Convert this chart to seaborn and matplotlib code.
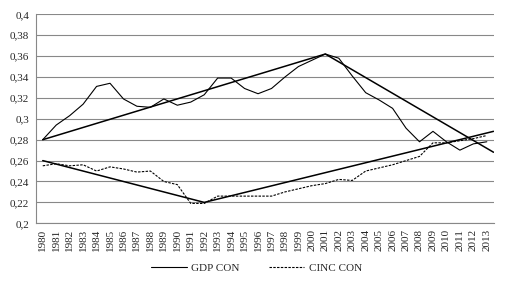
import numpy as np
import pandas as pd
import matplotlib.pyplot as plt
import seaborn as sns
from matplotlib.lines import Line2D
from matplotlib.ticker import FuncFormatter

# values
years = list(range(1980, 2014))
gdp_con = [0.280, 0.294, 0.303, 0.314, 0.331, 0.334, 0.319, 0.312, 0.311, 0.319,
           0.313, 0.316, 0.323, 0.339, 0.339, 0.329, 0.324, 0.329, 0.340, 0.350,
           0.356, 0.362, 0.358, 0.341, 0.325, 0.318, 0.310, 0.291, 0.278, 0.288,
           0.278, 0.270, 0.276, 0.278]
cinc_con = [0.255, 0.257, 0.255, 0.256, 0.250, 0.254, 0.252, 0.249, 0.250, 0.240,
            0.237, 0.219, 0.219, 0.226, 0.226, 0.226, 0.226, 0.226, 0.230, 0.233,
            0.236, 0.238, 0.242, 0.241, 0.250, 0.253, 0.256, 0.260, 0.264, 0.277,
            0.277, 0.279, 0.281, 0.284]

# straight trend segments (knots)
gdp_trend_years = [1980, 2001, 2013.5]
gdp_trend = [0.280, 0.362, 0.268]
cinc_trend_years = [1980, 1992, 2013.5]
cinc_trend = [0.260, 0.220, 0.288]

sns.set_style("white")
plt.rcParams['font.family'] = ['Liberation Serif', 'DejaVu Serif']

fig = plt.figure(figsize=(5.08, 2.88), dpi=100)
ax = fig.add_axes([0.0709, 0.2247, 0.9006, 0.7256])

dash = (0, (2.2, 1.2))
sns.lineplot(x=years, y=gdp_con, ax=ax, color='black', lw=0.8)
sns.lineplot(x=years, y=cinc_con, ax=ax, color='black', lw=0.8, linestyle=dash)
sns.lineplot(x=gdp_trend_years, y=gdp_trend, ax=ax, color='black', lw=1.1)
sns.lineplot(x=cinc_trend_years, y=cinc_trend, ax=ax, color='black', lw=1.1)

ax.set_xlim(1979.5, 2013.5)
ax.set_ylim(0.2, 0.4)
ax.set_xticks(years)
ax.set_xticklabels([str(y) for y in years], rotation=90, fontsize=8)
ax.set_yticks(np.round(np.arange(0.2, 0.401, 0.02), 2))
ax.yaxis.set_major_formatter(FuncFormatter(lambda v, _: f"{round(v, 2):g}".replace('.', ',')))
ax.tick_params(axis='y', labelsize=8, length=0, pad=5)
ax.tick_params(axis='x', length=0, pad=4)
ax.yaxis.grid(True, color='#888888', lw=0.8)
ax.set_axisbelow(True)
for s in ['top', 'right']:
    ax.spines[s].set_visible(False)
for s in ['left', 'bottom']:
    ax.spines[s].set_color('#888888')
    ax.spines[s].set_linewidth(0.8)

handles = [Line2D([], [], color='black', lw=0.8),
           Line2D([], [], color='black', lw=0.8, linestyle=dash)]
fig.legend(handles, ['GDP CON', 'CINC CON'], loc='center', bbox_to_anchor=(0.505, 0.07),
           ncol=2, frameon=False, fontsize=8, handlelength=3.2, handletextpad=0.4,
           columnspacing=2.6)

fig.savefig('out.png', dpi=100)
